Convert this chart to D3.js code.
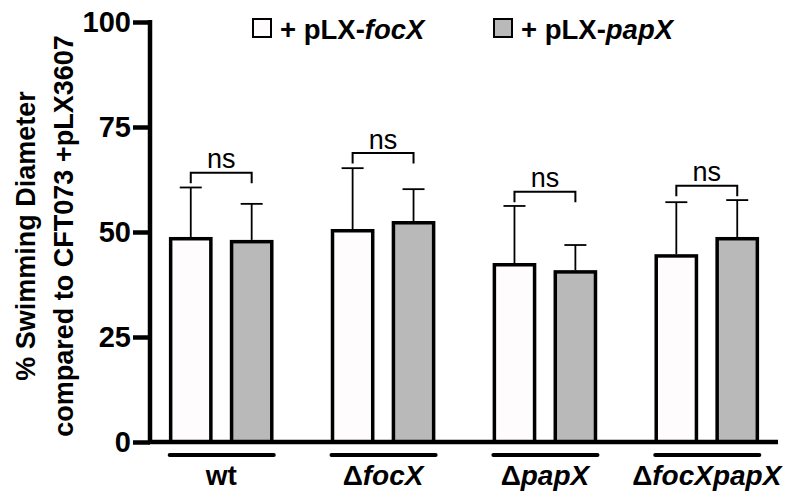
<!DOCTYPE html>
<html>
<head>
<meta charset="utf-8">
<script src="https://cdn.jsdelivr.net/npm/d3@7"></script>
<style>
    body { margin: 0; background: #fff; }
    svg { display: block; font-family: "Liberation Sans", Arial, Helvetica, sans-serif; }
</style>
</head>
<body>
<svg id="chart" width="789" height="493"></svg>
<script>
// Strains (groups) and their labels: [upright prefix, italic gene name]
var Strains = ["wt", "focX", "papX", "focXpapX"];
var StrainLabels = [["wt", ""], ["\u0394", "focX"], ["\u0394", "papX"], ["\u0394", "focXpapX"]];
// Series: complemented plasmid
var Series = ["focX", "papX"];
var SeriesFills = ["#fffcfd", "#b9b9b9"];
// Mean swimming diameter (% of CFT073 +pLX3607)
var FocXMeans = [48.4, 50.3, 42.2, 44.3];
var PapXMeans = [47.7, 52.2, 40.5, 48.4];
// Error (upper only)
var FocXErrors = [12.2, 14.9, 14.0, 12.8];
var PapXErrors = [9.0, 8.0, 6.4, 9.2];
// Significance brackets (height in data units) and labels
var BracketLevels = [64.1, 68.8, 59.6, 61.0];
var BracketLabels = ["ns", "ns", "ns", "ns"];
var YTicks = [0, 25, 50, 75, 100];

var SVG = d3.select("#chart");
var Means = [FocXMeans, PapXMeans];
var Errors = [FocXErrors, PapXErrors];

// Scales
var X = d3.scaleBand().domain(Strains).range([150, 778]).paddingInner(0.3).paddingOuter(0.09);
var Sub = d3.scaleBand().domain(Series).range([0, X.bandwidth()]).paddingInner(0.34).paddingOuter(0.1);
var Y = d3.scaleLinear().domain([0, 100]).range([442, 22]);

// Flatten the dataset
var Dataset = [];
Strains.forEach((Strain, I) => {
    Series.forEach((Name, J) => {
        Dataset.push({ Strain: Strain, Series: Name, Index: J, Value: Means[J][I], Error: Errors[J][I] });
    });
});

// Bars
SVG.append("g").selectAll("rect")
    .data(Dataset)
    .enter()
    .append("rect")
        .attr("x", D => X(D.Strain) + Sub(D.Series))
        .attr("y", D => Y(D.Value))
        .attr("width", Sub.bandwidth())
        .attr("height", D => Y(0) - Y(D.Value))
        .attr("fill", D => SeriesFills[D.Index])
        .attr("stroke", "#000")
        .attr("stroke-width", 3.5);

// Error bars (upper half only)
var ErrorGroup = SVG.append("g").attr("stroke", "#000").attr("stroke-width", 1.8);
Dataset.forEach(D => {
    var Cx = X(D.Strain) + Sub(D.Series) + Sub.bandwidth() / 2;
    ErrorGroup.append("line")
        .attr("x1", Cx).attr("x2", Cx)
        .attr("y1", Y(D.Value) - 1.75).attr("y2", Y(D.Value + D.Error));
    ErrorGroup.append("line")
        .attr("x1", Cx - 11).attr("x2", Cx + 11)
        .attr("y1", Y(D.Value + D.Error)).attr("y2", Y(D.Value + D.Error));
});

// Significance brackets
var Brackets = SVG.append("g");
Strains.forEach((Strain, I) => {
    var Left = X(Strain) + Sub(Series[0]) + Sub.bandwidth() / 2;
    var Right = X(Strain) + Sub(Series[1]) + Sub.bandwidth() / 2;
    var Top = Y(BracketLevels[I]);
    Brackets.append("path")
        .attr("d", `M${Left},${Top + 10.5}V${Top}H${Right}V${Top + 10.5}`)
        .attr("fill", "none")
        .attr("stroke", "#000")
        .attr("stroke-width", 2);
    Brackets.append("text")
        .attr("x", (Left + Right) / 2)
        .attr("y", Top - 4.5)
        .attr("text-anchor", "middle")
        .attr("font-size", "27px")
        .text(BracketLabels[I]);
});

// Y axis
var YAxis = SVG.append("g")
    .attr("transform", "translate(150,0)")
    .call(d3.axisLeft(Y).tickValues(YTicks).tickSize(17).tickPadding(2));
YAxis.select(".domain").attr("stroke-width", 4.5).attr("d", `M0,20V${Y(0) + 2}`);
YAxis.selectAll(".tick line").attr("stroke-width", 4.5);
YAxis.selectAll(".tick text")
    .attr("font-size", "29px")
    .attr("font-weight", "bold")
    .attr("font-family", "\"Liberation Sans\", Arial, sans-serif")
    .attr("fill", "#000");

// X axis line
SVG.append("line")
    .attr("x1", 148).attr("x2", 778)
    .attr("y1", Y(0)).attr("y2", Y(0))
    .attr("stroke", "#000")
    .attr("stroke-width", 4.5);

// Group underlines and labels
var Groups = SVG.append("g");
Strains.forEach((Strain, I) => {
    var Left = X(Strain) + Sub(Series[0]) - 1;
    var Right = X(Strain) + Sub(Series[1]) + Sub.bandwidth() + 2;
    Groups.append("line")
        .attr("x1", Left).attr("x2", Right)
        .attr("y1", 455).attr("y2", 455)
        .attr("stroke", "#000")
        .attr("stroke-width", 4)
        .attr("stroke-linecap", "round");
    var Label = Groups.append("text")
        .attr("x", X(Strain) + X.bandwidth() / 2)
        .attr("y", 485)
        .attr("text-anchor", "middle")
        .attr("font-size", "28px")
        .attr("font-weight", "bold");
    Label.append("tspan").text(StrainLabels[I][0]);
    Label.append("tspan").attr("font-style", "italic").text(StrainLabels[I][1]);
});

// Y axis title
var Title = SVG.append("text")
    .attr("transform", "translate(0,236) rotate(-90)")
    .attr("text-anchor", "middle")
    .attr("font-size", "27px")
    .attr("font-weight", "bold");
Title.append("tspan").attr("x", 0).attr("y", 35).text("% Swimming Diameter");
Title.append("tspan").attr("x", 0).attr("y", 73).text("compared to CFT073 +pLX3607");

// Legend
var LegendX = [252, 493];
Series.forEach((Name, I) => {
    var Item = SVG.append("g").attr("transform", `translate(${LegendX[I]},18)`);
    Item.append("rect")
        .attr("x", 1).attr("y", 1)
        .attr("width", 18).attr("height", 18)
        .attr("fill", SeriesFills[I])
        .attr("stroke", "#000")
        .attr("stroke-width", 2);
    var Text = Item.append("text")
        .attr("x", 28)
        .attr("y", 21)
        .attr("font-size", "27.5px")
        .attr("font-weight", "bold");
    Text.append("tspan").text("+ pLX-");
    Text.append("tspan").attr("font-style", "italic").text(Name);
});
</script>
</body>
</html>
